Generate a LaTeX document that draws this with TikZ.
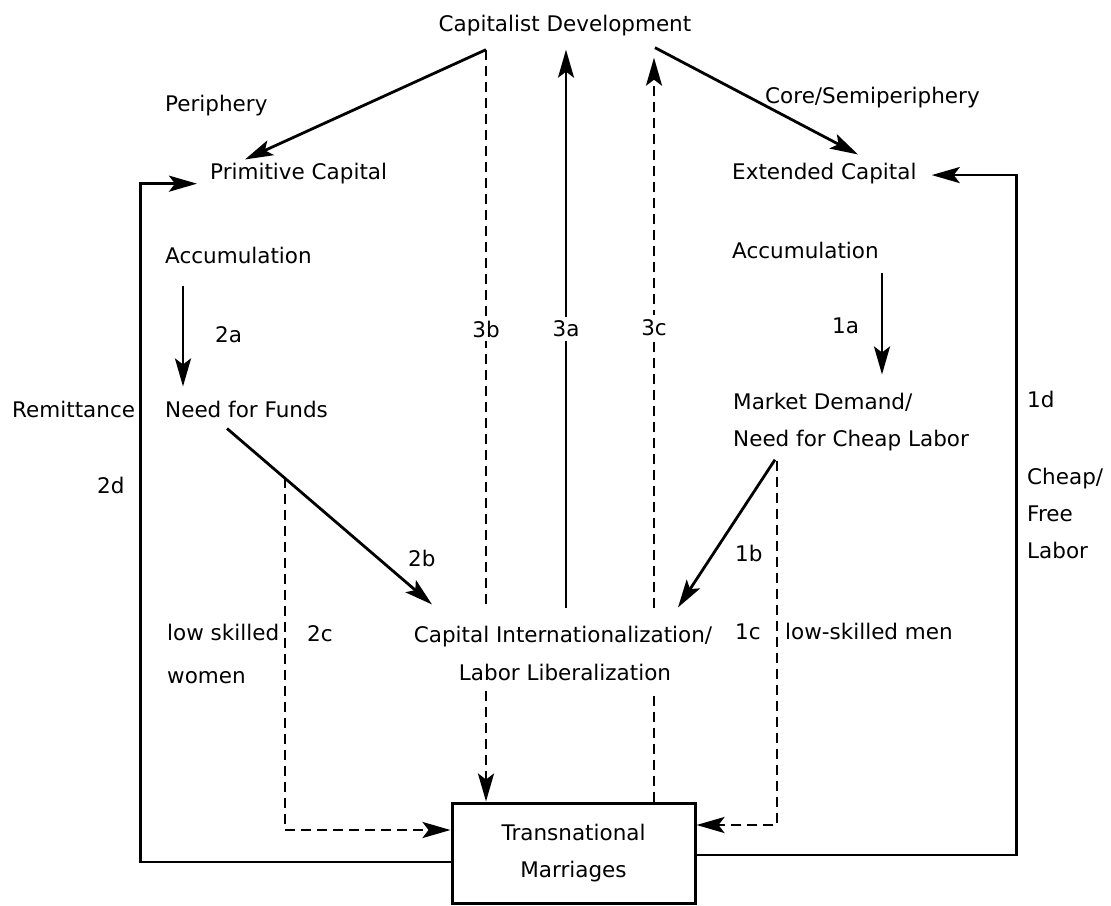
\documentclass[tikz,border=0pt]{standalone}
\usepackage{fontspec}
\setmainfont{DejaVu Sans}
\usetikzlibrary{arrows.meta,calc}

\begin{document}
\begin{tikzpicture}[
    x=1pt, y=-1pt,
    txt/.style={inner sep=0pt, font=\fontsize{21.5}{26}\selectfont, anchor=base west},
    lbl/.style={txt, anchor=center, fill=white, inner sep=4pt},
    arr/.style={-{Stealth[length=28pt,width=16pt,inset=6pt]}, line width=2.8pt},
    dline/.style={line width=2.8pt, dash pattern=on 10pt off 6pt},
    darr/.style={dline, -{Stealth[length=28pt,width=16pt,inset=6pt]}},
    box/.style={draw, line width=3pt, minimum width=243pt, minimum height=100pt,
                align=center, font=\fontsize{21.5}{37}\selectfont}
  ]
  \useasboundingbox (0,0) rectangle (1111,905);

  % top
  \node[txt, anchor=base] (cd) at (565,31) {Capitalist Development};
  \coordinate (b3) at ([xshift=-79pt,yshift=-14pt]cd.south);
  \coordinate (a3) at ([xshift=1pt,yshift=-14pt]cd.south);
  \coordinate (c3) at ([xshift=89pt,yshift=-22pt]cd.south);
  \coordinate (cdR) at ([xshift=90pt,yshift=-12pt]cd.south);

  % periphery side
  \node[txt] (per) at (165,111) {Periphery};
  \node[txt] (pc) at (210,179) {Primitive Capital};
  \node[txt] (accl) at (165,263) {Accumulation};
  \node[txt] (n2a) at (215,342) {2a};
  \node[txt] (nff) at (165,417) {Need for Funds};
  \node[txt] (rem) at (12,417) {Remittance};
  \node[txt] (n2d) at (97,493) {2d};
  \node[txt] (n2b) at (408,566) {2b};
  \node[txt] (lsw1) at (167,640) {low skilled};
  \node[txt] (lsw2) at (167,683) {women};
  \node[txt] (n2c) at (307,641) {2c};

  % core side
  \node[txt] (core) at (765,103) {Core/Semiperiphery};
  \node[txt] (ec) at (732,179) {Extended Capital};
  \node[txt] (accr) at (732,258) {Accumulation};
  \node[txt] (n1a) at (832,333) {1a};
  \node[txt] (md1) at (733,409) {Market Demand/};
  \node[txt] (md2) at (733,446) {Need for Cheap Labor};
  \node[txt] (n1d) at (1027,407) {1d};
  \node[txt] (cfl1) at (1027,484) {Cheap/};
  \node[txt] (cfl2) at (1027,521) {Free};
  \node[txt] (cfl3) at (1027,558) {Labor};
  \node[txt] (n1b) at (735,561) {1b};
  \node[txt] (n1c) at (735,639) {1c};
  \node[txt] (lsm) at (785,639) {low-skilled men};

  % middle
  \node[txt, anchor=base] (ci1) at (563,642) {Capital Internationalization/};
  \node[txt, anchor=base] (ci2) at (565,680) {Labor Liberalization};
  \coordinate (ciT) at ([yshift=17pt]ci1.north);
  \coordinate (ciB) at ([yshift=-10pt]ci2.south);

  \node[box] (tm) at (573.5,853) {Transnational\\Marriages};

  % top arrows
  \draw[arr] (b3) -- ([xshift=35pt,yshift=3pt]pc.north west);
  \draw[arr] (cdR) -- ([xshift=126pt,yshift=8pt]ec.north west);

  % 3a-3c
  \draw[dline] (b3) -- node[lbl] {3b} (b3 |- ciT);
  \draw[darr] (b3 |- ciB) -- (b3 |- tm.north);
  \draw[arr] (a3 |- ciT) -- node[lbl] {3a} (a3);
  \draw[dline] (c3 |- tm.north) -- (c3 |- ciB);
  \draw[darr] (c3 |- ciT) -- node[lbl, pos=0.51] {3c} (c3);

  % 2a-2d
  \draw[arr] ([xshift=18pt,yshift=-22pt]accl.south west) -- ([xshift=18pt,yshift=14pt]nff.north west);
  \draw[arr] ([xshift=62pt,yshift=-11pt]nff.south west)
    -- coordinate[pos=0.283] (br2) ([xshift=-131pt,yshift=21pt]ci1.north);
  \draw[darr] (br2) |- ([yshift=23pt]tm.west);
  \draw[arr] ([yshift=-9pt]tm.west) -- ++(-310,0) |- ([xshift=-13pt]pc.south west);

  % 1a-1d
  \draw[arr] ([xshift=150pt,yshift=-14pt]accr.south west) -- ([xshift=149pt,yshift=18pt]md1.north west);
  \draw[arr] ([xshift=42pt,yshift=-9pt]md2.south west) -- ([xshift=115pt,yshift=18pt]ci1.north);
  \draw[darr] ([xshift=44pt,yshift=-10pt]md2.south west) |- ([yshift=28pt]tm.east);
  \draw[arr] ([yshift=-2pt]tm.east) -- ++(320,0) |- ([xshift=15pt,yshift=-2pt]ec.east);
\end{tikzpicture}
\end{document}
